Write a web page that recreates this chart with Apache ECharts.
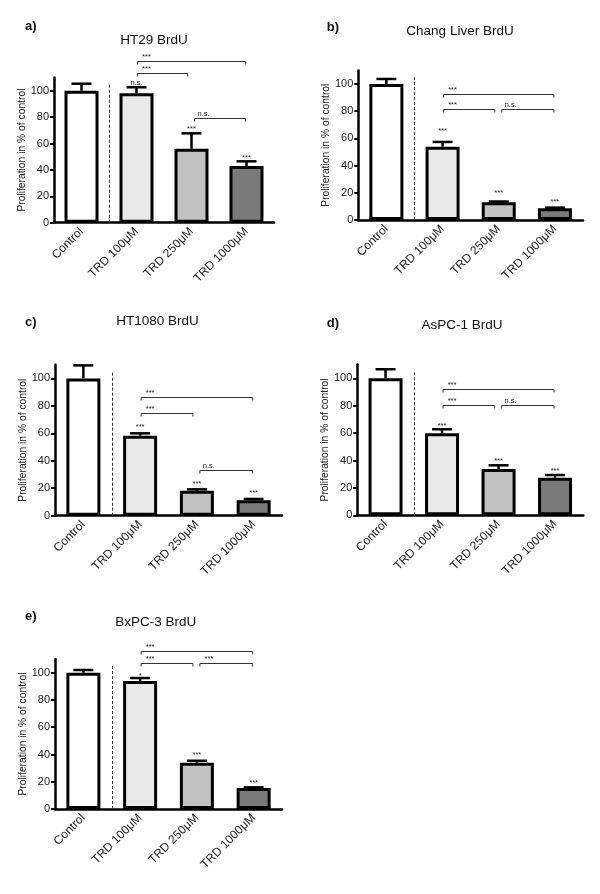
<!DOCTYPE html>
<html>
<head>
<meta charset="utf-8">
<script src="https://cdn.jsdelivr.net/npm/echarts@6/dist/echarts.min.js"></script>
<style>
html,body{margin:0;padding:0;background:#fff;}
#chart{width:600px;height:894px;}
</style>
</head>
<body>
<div id="chart"></div>
<script>
// ---------- DATA ----------
const categories = ['Control', 'TRD 100μM', 'TRD 250μM', 'TRD 1000μM'];
const panelLetters = ['a)', 'b)', 'c)', 'd)', 'e)'];
const panelTitles = ['HT29 BrdU', 'Chang Liver BrdU', 'HT1080 BrdU', 'AsPC-1 BrdU', 'BxPC-3 BrdU'];
const yAxisName = 'Proliferation in % of control';
const yTickValues = [0, 20, 40, 60, 80, 100];

// mean values (% of control)
const meansA = [100, 98, 56, 43];
const meansB = [100, 53.9, 13.0, 8.6];
const meansC = [100, 58.3, 18.2, 11.2];
const meansD = [100, 59.8, 33.8, 27.4];
const meansE = [100, 93.9, 34.0, 15.4];

// upper error bar lengths
const errA = [5.3, 4.6, 11.7, 3.5];
const errB = [3.7, 3.5, 0.6, 0.5];
const errC = [9.5, 1.7, 1.0, 1.0];
const errD = [6.6, 3.0, 2.7, 2.0];
const errE = [2.0, 2.2, 1.4, 0.5];

// significance labels above each bar and the value level they sit at
const sigA = ['', 'n.s.', '***', '***'];
const sigLevelA = [null, 107.3, 72, 50.5];
const sigB = ['', '***', '***', '***'];
const sigLevelB = [null, 66.9, 20.8, 14.7];
const sigC = ['', '***', '***', '***'];
const sigLevelC = [null, 66, 24, 17.8];
const sigD = ['', '***', '***', '***'];
const sigLevelD = [null, 66.6, 40.9, 33.6];
const sigE = ['', '*', '***', '***'];
const sigLevelE = [null, 99, 40.9, 20.5];

// comparison brackets: [fromCategory, toCategory, level, label]
const bracketsA = [[1, 3, 122.5, '***'], [1, 2, 113.4, '***'], [2, 3, 79.3, 'n.s.']];
const bracketsB = [[1, 3, 92.4, '***'], [1, 2, 81.6, '***'], [2, 3, 81.6, 'n.s.']];
const bracketsC = [[1, 3, 86.7, '***'], [1, 2, 75, '***'], [2, 3, 33.3, 'n.s.']];
const bracketsD = [[1, 3, 92.2, '***'], [1, 2, 80.7, '***'], [2, 3, 80.7, 'n.s.']];
const bracketsE = [[1, 3, 116, '***'], [1, 2, 106.9, '***'], [2, 3, 106.9, '***']];

const barColors = ['#ffffff', '#e9e9e9', '#c1c1c1', '#7a7a7a'];

// ---------- LAYOUT ----------
const FONT = '"Liberation Sans", Arial, Helvetica, sans-serif';
const panels = [
  {means: meansA, err: errA, sig: sigA, sigLevel: sigLevelA, brackets: bracketsA,
   grid: {left: 54, top: 77.5, width: 220, height: 145.2}, nameGap: 22.5,
   title: [154, 40], letter: [25, 26.7]},
  {means: meansB, err: errB, sig: sigB, sigLevel: sigLevelB, brackets: bracketsB,
   grid: {left: 358.3, top: 70.4, width: 224.7, height: 149.6}, nameGap: 26.5,
   title: [460, 31.7], letter: [326.7, 27.7]},
  {means: meansC, err: errC, sig: sigC, sigLevel: sigLevelC, brackets: bracketsC,
   grid: {left: 55, top: 364.7, width: 227, height: 151}, nameGap: 23.5,
   title: [157.5, 321.7], letter: [25, 322.3]},
  {means: meansD, err: errD, sig: sigD, sigLevel: sigLevelD, brackets: bracketsD,
   grid: {left: 357.3, top: 364.6, width: 226, height: 150.7}, nameGap: 24,
   title: [462, 325.7], letter: [326.7, 323.3]},
  {means: meansE, err: errE, sig: sigE, sigLevel: sigLevelE, brackets: bracketsE,
   grid: {left: 55, top: 659.1, width: 227, height: 149.9}, nameGap: 23.5,
   title: [155.7, 622.3], letter: [25, 616]}
];

const grids = [], xAxes = [], yAxes = [], series = [], graphics = [];

panels.forEach((p, k) => {
  grids.push(Object.assign({containLabel: false}, p.grid));
  xAxes.push({
    type: 'category', gridIndex: k, data: categories,
    axisLine: {lineStyle: {color: '#000', width: 2.5}},
    axisTick: {alignWithLabel: true, length: 4, lineStyle: {color: '#000', width: 2}},
    axisLabel: {rotate: 45, interval: 0, margin: 7, fontSize: 12, color: '#222', fontFamily: FONT},
    splitLine: {show: false}
  });
  yAxes.push({
    type: 'value', gridIndex: k, min: 0, max: 110, interval: 20,
    name: yAxisName, nameLocation: 'middle', nameGap: p.nameGap,
    nameTextStyle: {fontSize: 10.3, color: '#222', fontFamily: FONT},
    axisLine: {show: true, lineStyle: {color: '#000', width: 2.5}},
    axisTick: {show: true, length: 4, customValues: yTickValues, lineStyle: {color: '#000', width: 2}},
    axisLabel: {fontSize: 11, color: '#222', margin: 5, fontFamily: FONT, customValues: yTickValues},
    splitLine: {show: false}
  });

  // bars
  series.push({
    type: 'bar', xAxisIndex: k, yAxisIndex: k, barWidth: 34,
    data: p.means.map((v, i) => ({value: v, itemStyle: {color: barColors[i]}})),
    itemStyle: {borderColor: '#000', borderWidth: 3},
    z: 2, silent: true
  });

  // error bars (upper only)
  series.push({
    type: 'custom', xAxisIndex: k, yAxisIndex: k, z: 3, silent: true,
    data: p.means.map((v, i) => [i, v, p.err[i]]),
    renderItem: function (params, api) {
      const x = api.value(0), m = api.value(1), e = api.value(2);
      const p0 = api.coord([x, m]);
      const p1 = api.coord([x, m + e]);
      return {type: 'group', children: [
        {type: 'line', shape: {x1: p0[0], y1: p0[1], x2: p1[0], y2: p1[1]}, style: {stroke: '#000', lineWidth: 2.5}},
        {type: 'line', shape: {x1: p1[0] - 10, y1: p1[1], x2: p1[0] + 10, y2: p1[1]}, style: {stroke: '#000', lineWidth: 2.5}}
      ]};
    }
  });

  // significance above bars
  const sigData = [];
  p.sig.forEach((s, i) => { if (s) sigData.push([i, p.sigLevel[i]]); });
  const sigText = p.sig.filter(s => s);
  series.push({
    type: 'custom', xAxisIndex: k, yAxisIndex: k, z: 4, silent: true,
    data: sigData,
    renderItem: function (params, api) {
      const pt = api.coord([api.value(0), api.value(1)]);
      return {type: 'text', style: {text: sigText[params.dataIndex], x: pt[0], y: pt[1] + 1.5,
        align: 'center', verticalAlign: 'middle', fontSize: 7.5, fontFamily: FONT, fill: '#222'}};
    }
  });

  // brackets
  const br = p.brackets;
  series.push({
    type: 'custom', xAxisIndex: k, yAxisIndex: k, z: 4, silent: true, clip: false,
    data: br.map(b => [b[0], b[1], b[2]]),
    renderItem: function (params, api) {
      const i1 = api.value(0), i2 = api.value(1), lv = api.value(2);
      const a = api.coord([i1, lv]);
      const b = api.coord([i2, lv]);
      const x1 = a[0] + (i1 === 2 ? 3 : 1);
      const x2 = b[0] - (i2 === 2 ? 4 : 1);
      const y = Math.round(a[1]) + 0.5;
      return {type: 'group', children: [
        {type: 'polyline', shape: {points: [[x1, y + 3], [x1, y], [x2, y], [x2, y + 3]]},
         style: {stroke: '#333', lineWidth: 1, fill: null}},
        {type: 'text', style: {text: br[params.dataIndex][3], x: x1 + 9, y: y - 1,
          align: 'center', verticalAlign: 'bottom', fontSize: 7.5, fontFamily: FONT, fill: '#222'}}
      ]};
    }
  });

  // dashed separator between control and treatments
  series.push({
    type: 'custom', xAxisIndex: k, yAxisIndex: k, z: 1, silent: true,
    data: [[0, 105]],
    renderItem: function (params, api) {
      const c0 = api.coord([0, 0]);
      const c1 = api.coord([1, 0]);
      const top = api.coord([0, api.value(1)]);
      const x = Math.round((c0[0] + c1[0]) / 2) + 0.5;
      return {type: 'line', shape: {x1: x, y1: c0[1], x2: x, y2: top[1]},
        style: {stroke: '#333', lineWidth: 1, lineDash: [3, 2]}};
    }
  });

  graphics.push({type: 'text', style: {text: panelTitles[k], x: p.title[0], y: p.title[1],
    align: 'center', verticalAlign: 'middle', fontSize: 13.5, fontFamily: FONT, fill: '#111'}});
  graphics.push({type: 'text', style: {text: panelLetters[k], x: p.letter[0], y: p.letter[1],
    verticalAlign: 'middle', align: 'left', fontSize: 13, fontWeight: 'bold', fontFamily: FONT, fill: '#111'}});
});

const chart = echarts.init(document.getElementById('chart'), null, {renderer: 'canvas'});
chart.setOption({
  animation: false,
  backgroundColor: '#fff',
  grid: grids, xAxis: xAxes, yAxis: yAxes, series: series,
  graphic: {elements: graphics}
});
</script>
</body>
</html>
